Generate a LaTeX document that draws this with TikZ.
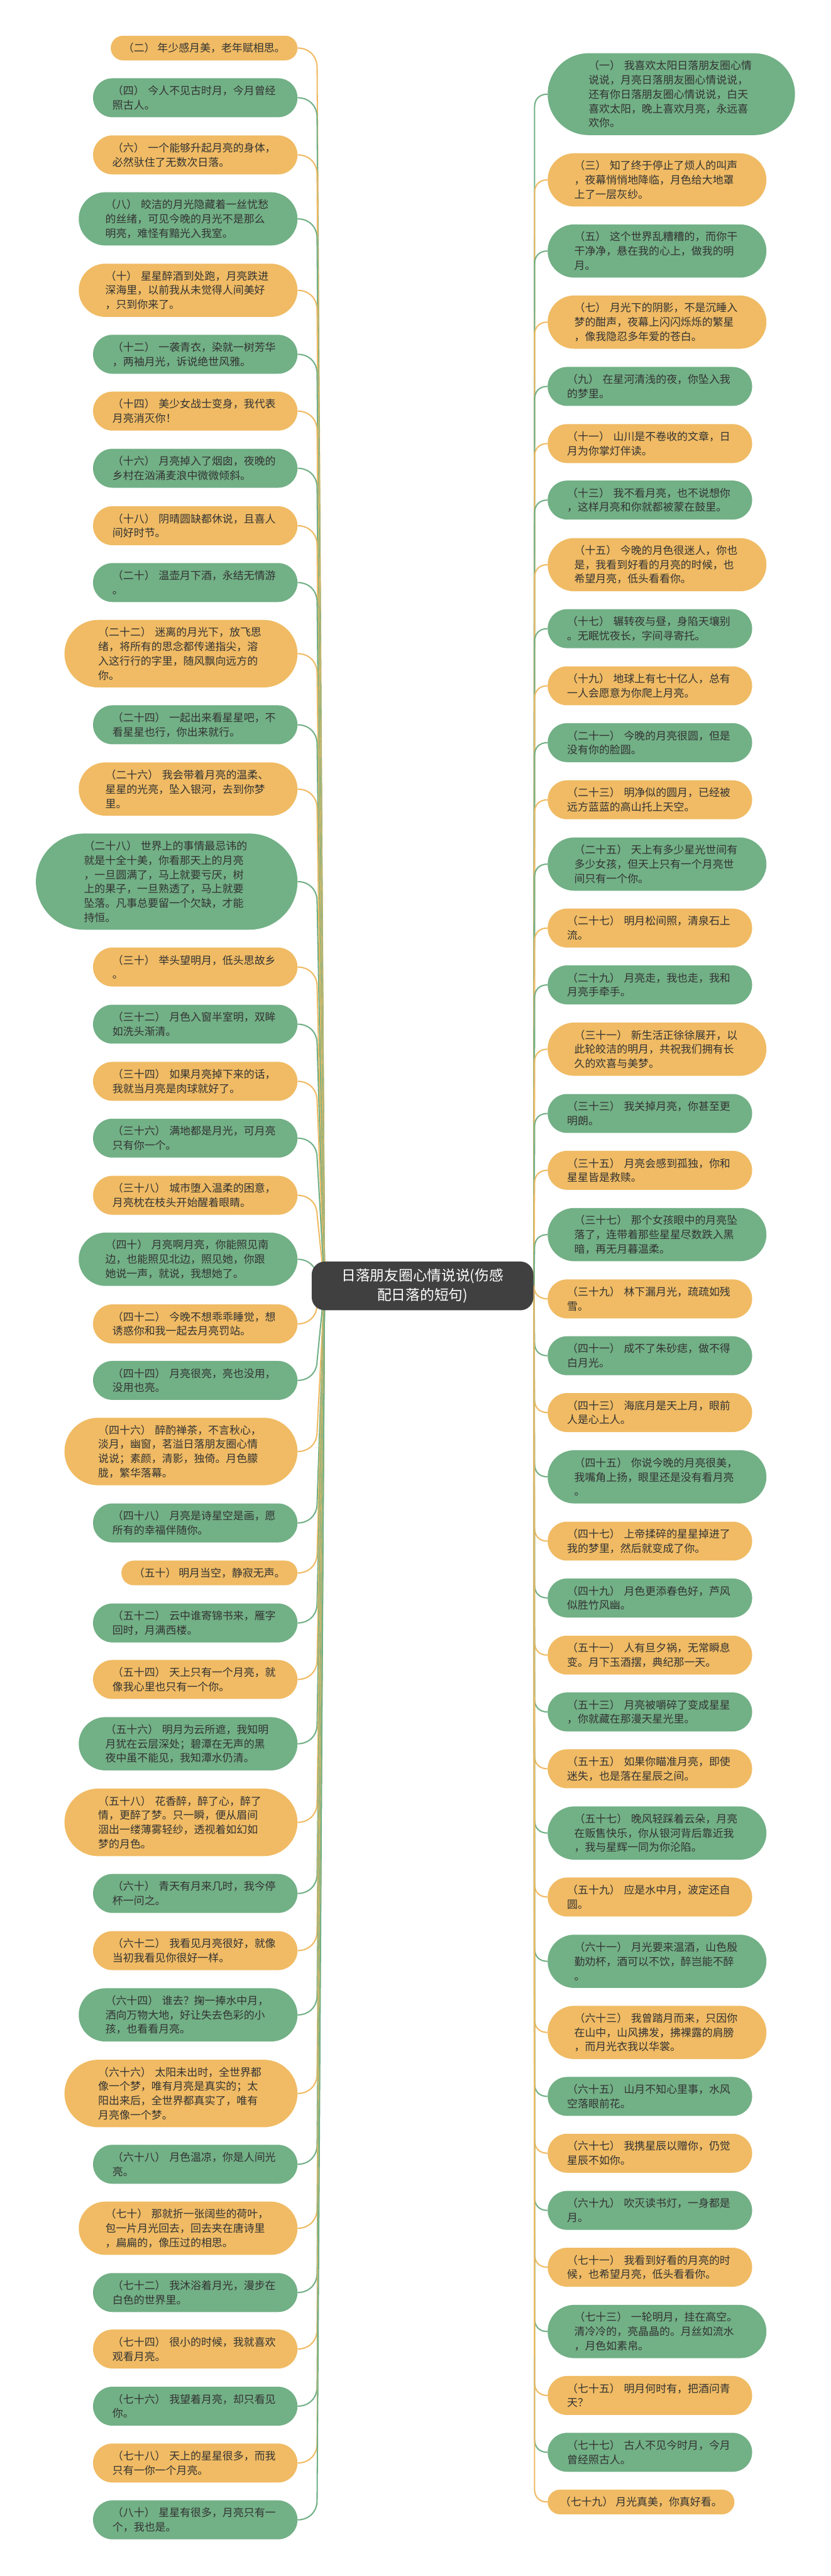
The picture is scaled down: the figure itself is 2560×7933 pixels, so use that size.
\documentclass[tikz,border=0pt]{standalone}
\usepackage{fontspec}
\setmainfont{Noto Sans CJK SC}
\usetikzlibrary{backgrounds}

\definecolor{warmfill}{RGB}{240,187,100}
\definecolor{coolfill}{RGB}{114,176,134}
\definecolor{rootfill}{RGB}{64,64,64}
\definecolor{leaftext}{RGB}{51,51,51}

\tikzset{
  leaf/.style={rectangle, align=left, inner ysep=0pt, text=leaftext, font=\fontsize{16.4}{22}\selectfont},
  warm/.style={leaf, fill=warmfill},
  cool/.style={leaf, fill=coolfill},
  oneline/.style={minimum height=38pt, inner xsep=19pt, rounded corners=19pt},
  twoline/.style={text width=255pt, minimum height=60pt, inner xsep=30pt, rounded corners=30pt},
  threeline/.style={text width=255pt, minimum height=82pt, inner xsep=41pt, rounded corners=41pt},
  fourline/.style={text width=255pt, minimum height=104pt, inner xsep=52pt, rounded corners=52pt},
  fiveline/.style={text width=255pt, minimum height=126pt, inner xsep=63pt, rounded corners=63pt},
  sixline/.style={text width=255pt, minimum height=148pt, inner xsep=74pt, rounded corners=74pt},
  rootbox/.style={rectangle, rounded corners=20pt, fill=rootfill, text=white, align=center, minimum width=341.5pt, minimum height=75pt, font=\fontsize{22}{30}\selectfont},
  warmlink/.style={draw=warmfill, line width=2pt},
  coollink/.style={draw=coolfill, line width=2pt}
}

\begin{document}
\begin{tikzpicture}[x=0.5pt,y=0.5pt,yscale=-1]
\useasboundingbox (0,0) rectangle (2560,7933);
\begin{scope}[on background layer]
\fill [white] (0,0) rectangle (2560,7933);
\end{scope}

% Centre
\draw (1302,3960) node (root) [rootbox] {日落朋友圈心情说说(伤感\\配日落的短句)};
\coordinate (hubL) at (1000,3960);
\coordinate (hubR) at (1645,3960);

% Left branches
\draw (917,148) node (l2) [warm, oneline, anchor=east] {（二）~年少感月美，老年赋相思。};
\draw (917,301) node (l4) [cool, twoline, anchor=east] {（四）~今人不见古时月，今月曾经\\照古人。};
\draw (917,477) node (l6) [warm, twoline, anchor=east] {（六）~一个能够升起月亮的身体，\\必然驮住了无数次日落。};
\draw (917,674) node (l8) [cool, threeline, anchor=east] {（八）~皎洁的月光隐藏着一丝忧愁\\的丝绪，可见今晚的月光不是那么\\明亮，难怪有黯光入我室。};
\draw (917,894) node (l10) [warm, threeline, anchor=east] {（十）~星星醉酒到处跑，月亮跌进\\深海里，以前我从未觉得人间美好\\，只到你来了。};
\draw (917,1091) node (l12) [cool, twoline, anchor=east] {（十二）~一袭青衣，染就一树芳华\\，两袖月光，诉说绝世风雅。};
\draw (917,1266) node (l14) [warm, twoline, anchor=east] {（十四）~美少女战士变身，我代表\\月亮消灭你！};
\draw (917,1442) node (l16) [cool, twoline, anchor=east] {（十六）~月亮掉入了烟囱，夜晚的\\乡村在汹涌麦浪中微微倾斜。};
\draw (917,1619) node (l18) [warm, twoline, anchor=east] {（十八）~阴晴圆缺都休说，且喜人\\间好时节。};
\draw (917,1794) node (l20) [cool, twoline, anchor=east] {（二十）~温壶月下酒，永结无情游\\。};
\draw (917,2013) node (l22) [warm, fourline, anchor=east] {（二十二）~迷离的月光下，放飞思\\绪，将所有的思念都传递指尖，溶\\入这行行的字里，随风飘向远方的\\你。};
\draw (917,2232) node (l24) [cool, twoline, anchor=east] {（二十四）~一起出来看星星吧，不\\看星星也行，你出来就行。};
\draw (917,2430) node (l26) [warm, threeline, anchor=east] {（二十六）~我会带着月亮的温柔、\\星星的光亮，坠入银河，去到你梦\\里。};
\draw (917,2715) node (l28) [cool, sixline, anchor=east] {（二十八）~世界上的事情最忌讳的\\就是十全十美，你看那天上的月亮\\，一旦圆满了，马上就要亏厌，树\\上的果子，一旦熟透了，马上就要\\坠落。凡事总要留一个欠缺，才能\\持恒。};
\draw (917,2978) node (l30) [warm, twoline, anchor=east] {（三十）~举头望明月，低头思故乡\\。};
\draw (917,3154) node (l32) [cool, twoline, anchor=east] {（三十二）~月色入窗半室明，双眸\\如洗头渐清。};
\draw (917,3330) node (l34) [warm, twoline, anchor=east] {（三十四）~如果月亮掉下来的话，\\我就当月亮是肉球就好了。};
\draw (917,3505) node (l36) [cool, twoline, anchor=east] {（三十六）~满地都是月光，可月亮\\只有你一个。};
\draw (917,3681) node (l38) [warm, twoline, anchor=east] {（三十八）~城市堕入温柔的困意，\\月亮枕在枝头开始醒着眼睛。};
\draw (917,3878) node (l40) [cool, threeline, anchor=east] {（四十）~月亮啊月亮，你能照见南\\边，也能照见北边，照见她，你跟\\她说一声，就说，我想她了。};
\draw (917,4077) node (l42) [warm, twoline, anchor=east] {（四十二）~今晚不想乖乖睡觉，想\\诱惑你和我一起去月亮罚站。};
\draw (917,4251) node (l44) [cool, twoline, anchor=east] {（四十四）~月亮很亮，亮也没用，\\没用也亮。};
\draw (917,4470) node (l46) [warm, fourline, anchor=east] {（四十六）~醉酌禅茶，不言秋心，\\淡月，幽窗，茗溢日落朋友圈心情\\说说；素颜，清影，独倚。月色朦\\胧，繁华落幕。};
\draw (917,4690) node (l48) [cool, twoline, anchor=east] {（四十八）~月亮是诗星空是画，愿\\所有的幸福伴随你。};
\draw (917,4844) node (l50) [warm, oneline, anchor=east] {（五十）~明月当空，静寂无声。};
\draw (917,4998) node (l52) [cool, twoline, anchor=east] {（五十二）~云中谁寄锦书来，雁字\\回时，月满西楼。};
\draw (917,5172) node (l54) [warm, twoline, anchor=east] {（五十四）~天上只有一个月亮，就\\像我心里也只有一个你。};
\draw (917,5370) node (l56) [cool, threeline, anchor=east] {（五十六）~明月为云所遮，我知明\\月犹在云层深处；碧潭在无声的黑\\夜中虽不能见，我知潭水仍清。};
\draw (917,5612) node (l58) [warm, fourline, anchor=east] {（五十八）~花香醉，醉了心，醉了\\情，更醉了梦。只一瞬，便从眉间\\洇出一缕薄雾轻纱，透视着如幻如\\梦的月色。};
\draw (917,5831) node (l60) [cool, twoline, anchor=east] {（六十）~青天有月来几时，我今停\\杯一问之。};
\draw (917,6007) node (l62) [warm, twoline, anchor=east] {（六十二）~我看见月亮很好，就像\\当初我看见你很好一样。};
\draw (917,6205) node (l64) [cool, threeline, anchor=east] {（六十四）~谁去？掬一捧水中月，\\洒向万物大地，好让失去色彩的小\\孩，也看看月亮。};
\draw (917,6447) node (l66) [warm, fourline, anchor=east] {（六十六）~太阳未出时，全世界都\\像一个梦，唯有月亮是真实的；太\\阳出来后，全世界都真实了，唯有\\月亮像一个梦。};
\draw (917,6665) node (l68) [cool, twoline, anchor=east] {（六十八）~月色温凉，你是人间光\\亮。};
\draw (917,6862) node (l70) [warm, threeline, anchor=east] {（七十）~那就折一张阔些的荷叶，\\包一片月光回去，回去夹在唐诗里\\，扁扁的，像压过的相思。};
\draw (917,7060) node (l72) [cool, twoline, anchor=east] {（七十二）~我沐浴着月光，漫步在\\白色的世界里。};
\draw (917,7234) node (l74) [warm, twoline, anchor=east] {（七十四）~很小的时候，我就喜欢\\观看月亮。};
\draw (917,7410) node (l76) [cool, twoline, anchor=east] {（七十六）~我望着月亮，却只看见\\你。};
\draw (917,7585) node (l78) [warm, twoline, anchor=east] {（七十八）~天上的星星很多，而我\\只有一你一个月亮。};
\draw (917,7760) node (l80) [cool, twoline, anchor=east] {（八十）~星星有很多，月亮只有一\\个，我也是。};

% Right branches
\draw (1687,290) node (r1) [cool, fiveline, anchor=west] {（一）~我喜欢太阳日落朋友圈心情\\说说，月亮日落朋友圈心情说说，\\还有你日落朋友圈心情说说，白天\\喜欢太阳，晚上喜欢月亮，永远喜\\欢你。};
\draw (1687,554) node (r3) [warm, threeline, anchor=west] {（三）~知了终于停止了烦人的叫声\\，夜幕悄悄地降临，月色给大地罩\\上了一层灰纱。};
\draw (1687,773) node (r5) [cool, threeline, anchor=west] {（五）~这个世界乱糟糟的，而你干\\干净净，悬在我的心上，做我的明\\月。};
\draw (1687,992) node (r7) [warm, threeline, anchor=west] {（七）~月光下的阴影，不是沉睡入\\梦的酣声，夜幕上闪闪烁烁的繁星\\，像我隐忍多年爱的苍白。};
\draw (1687,1190) node (r9) [cool, twoline, anchor=west] {（九）~在星河清浅的夜，你坠入我\\的梦里。};
\draw (1687,1366) node (r11) [warm, twoline, anchor=west] {（十一）~山川是不卷收的文章，日\\月为你掌灯伴读。};
\draw (1687,1540) node (r13) [cool, twoline, anchor=west] {（十三）~我不看月亮，也不说想你\\，这样月亮和你就都被蒙在鼓里。};
\draw (1687,1739) node (r15) [warm, threeline, anchor=west] {（十五）~今晚的月色很迷人，你也\\是，我看到好看的月亮的时候，也\\希望月亮，低头看看你。};
\draw (1687,1936) node (r17) [cool, twoline, anchor=west] {（十七）~辗转夜与昼，身陷天壤别\\。无眠忧夜长，字间寻寄托。};
\draw (1687,2112) node (r19) [warm, twoline, anchor=west] {（十九）~地球上有七十亿人，总有\\一人会愿意为你爬上月亮。};
\draw (1687,2287) node (r21) [cool, twoline, anchor=west] {（二十一）~今晚的月亮很圆，但是\\没有你的脸圆。};
\draw (1687,2463) node (r23) [warm, twoline, anchor=west] {（二十三）~明净似的圆月，已经被\\远方蓝蓝的高山托上天空。};
\draw (1687,2661) node (r25) [cool, threeline, anchor=west] {（二十五）~天上有多少星光世间有\\多少女孩，但天上只有一个月亮世\\间只有一个你。};
\draw (1687,2858) node (r27) [warm, twoline, anchor=west] {（二十七）~明月松间照，清泉石上\\流。};
\draw (1687,3033) node (r29) [cool, twoline, anchor=west] {（二十九）~月亮走，我也走，我和\\月亮手牵手。};
\draw (1687,3231) node (r31) [warm, threeline, anchor=west] {（三十一）~新生活正徐徐展开，以\\此轮皎洁的明月，共祝我们拥有长\\久的欢喜与美梦。};
\draw (1687,3429) node (r33) [cool, twoline, anchor=west] {（三十三）~我关掉月亮，你甚至更\\明朗。};
\draw (1687,3604) node (r35) [warm, twoline, anchor=west] {（三十五）~月亮会感到孤独，你和\\星星皆是救赎。};
\draw (1687,3802) node (r37) [cool, threeline, anchor=west] {（三十七）~那个女孩眼中的月亮坠\\落了，连带着那些星星尽数跌入黑\\暗，再无月暮温柔。};
\draw (1687,4000) node (r39) [warm, twoline, anchor=west] {（三十九）~林下漏月光，疏疏如残\\雪。};
\draw (1687,4175) node (r41) [cool, twoline, anchor=west] {（四十一）~成不了朱砂痣，做不得\\白月光。};
\draw (1687,4350) node (r43) [warm, twoline, anchor=west] {（四十三）~海底月是天上月，眼前\\人是心上人。};
\draw (1687,4548) node (r45) [cool, threeline, anchor=west] {（四十五）~你说今晚的月亮很美，\\我嘴角上扬，眼里还是没有看月亮\\。};
\draw (1687,4746) node (r47) [warm, twoline, anchor=west] {（四十七）~上帝揉碎的星星掉进了\\我的梦里，然后就变成了你。};
\draw (1687,4921) node (r49) [cool, twoline, anchor=west] {（四十九）~月色更添春色好，芦风\\似胜竹风幽。};
\draw (1687,5097) node (r51) [warm, twoline, anchor=west] {（五十一）~人有旦夕祸，无常瞬息\\变。月下玉酒摆，典纪那一天。};
\draw (1687,5272) node (r53) [cool, twoline, anchor=west] {（五十三）~月亮被嚼碎了变成星星\\，你就藏在那漫天星光里。};
\draw (1687,5447) node (r55) [warm, twoline, anchor=west] {（五十五）~如果你瞄准月亮，即使\\迷失，也是落在星辰之间。};
\draw (1687,5645) node (r57) [cool, threeline, anchor=west] {（五十七）~晚风轻踩着云朵，月亮\\在贩售快乐，你从银河背后靠近我\\，我与星辉一同为你沦陷。};
\draw (1687,5842) node (r59) [warm, twoline, anchor=west] {（五十九）~应是水中月，波定还自\\圆。};
\draw (1687,6040) node (r61) [cool, threeline, anchor=west] {（六十一）~月光要来温酒，山色殷\\勤劝杯，酒可以不饮，醉岂能不醉\\。};
\draw (1687,6259) node (r63) [warm, threeline, anchor=west] {（六十三）~我曾踏月而来，只因你\\在山中，山风拂发，拂裸露的肩膀\\，而月光衣我以华裳。};
\draw (1687,6456) node (r65) [cool, twoline, anchor=west] {（六十五）~山月不知心里事，水风\\空落眼前花。};
\draw (1687,6631) node (r67) [warm, twoline, anchor=west] {（六十七）~我携星辰以赠你，仍觉\\星辰不如你。};
\draw (1687,6807) node (r69) [cool, twoline, anchor=west] {（六十九）~吹灭读书灯，一身都是\\月。};
\draw (1687,6982) node (r71) [warm, twoline, anchor=west] {（七十一）~我看到好看的月亮的时\\候，也希望月亮，低头看看你。};
\draw (1687,7180) node (r73) [cool, threeline, anchor=west] {（七十三）~一轮明月，挂在高空。\\清冷冷的，亮晶晶的。月丝如流水\\，月色如素帛。};
\draw (1687,7377) node (r75) [warm, twoline, anchor=west] {（七十五）~明月何时有，把酒问青\\天？};
\draw (1687,7552) node (r77) [cool, twoline, anchor=west] {（七十七）~古人不见今时月，今月\\曾经照古人。};
\draw (1687,7705) node (r79) [warm, oneline, anchor=west] {（七十九）~月光真美，你真好看。};

\begin{scope}[on background layer]
% Left links
\draw [warmlink] (l2.east) .. controls +(35,0) and +(0,-35) .. +(60,60) -- (hubL);
\draw [coollink] (l4.east) .. controls +(35,0) and +(0,-35) .. +(60,60) -- (hubL);
\draw [warmlink] (l6.east) .. controls +(35,0) and +(0,-35) .. +(60,60) -- (hubL);
\draw [coollink] (l8.east) .. controls +(35,0) and +(0,-35) .. +(60,60) -- (hubL);
\draw [warmlink] (l10.east) .. controls +(35,0) and +(0,-35) .. +(60,60) -- (hubL);
\draw [coollink] (l12.east) .. controls +(35,0) and +(0,-35) .. +(60,60) -- (hubL);
\draw [warmlink] (l14.east) .. controls +(35,0) and +(0,-35) .. +(60,60) -- (hubL);
\draw [coollink] (l16.east) .. controls +(35,0) and +(0,-35) .. +(60,60) -- (hubL);
\draw [warmlink] (l18.east) .. controls +(35,0) and +(0,-35) .. +(60,60) -- (hubL);
\draw [coollink] (l20.east) .. controls +(35,0) and +(0,-35) .. +(60,60) -- (hubL);
\draw [warmlink] (l22.east) .. controls +(35,0) and +(0,-35) .. +(60,60) -- (hubL);
\draw [coollink] (l24.east) .. controls +(35,0) and +(0,-35) .. +(60,60) -- (hubL);
\draw [warmlink] (l26.east) .. controls +(35,0) and +(0,-35) .. +(60,60) -- (hubL);
\draw [coollink] (l28.east) .. controls +(35,0) and +(0,-35) .. +(60,60) -- (hubL);
\draw [warmlink] (l30.east) .. controls +(35,0) and +(0,-35) .. +(60,60) -- (hubL);
\draw [coollink] (l32.east) .. controls +(35,0) and +(0,-35) .. +(60,60) -- (hubL);
\draw [warmlink] (l34.east) .. controls +(35,0) and +(0,-35) .. +(60,60) -- (hubL);
\draw [coollink] (l36.east) .. controls +(35,0) and +(0,-35) .. +(60,60) -- (hubL);
\draw [warmlink] (l38.east) .. controls +(35,0) and +(0,-35) .. +(60,60) -- (hubL);
\draw [coollink] (l40.east) .. controls +(35,0) and +(0,-35) .. +(60,60) -- (hubL);
\draw [warmlink] (l42.east) .. controls +(35,0) and +(0,35) .. +(60,-60) -- (hubL);
\draw [coollink] (l44.east) .. controls +(35,0) and +(0,35) .. +(60,-60) -- (hubL);
\draw [warmlink] (l46.east) .. controls +(35,0) and +(0,35) .. +(60,-60) -- (hubL);
\draw [coollink] (l48.east) .. controls +(35,0) and +(0,35) .. +(60,-60) -- (hubL);
\draw [warmlink] (l50.east) .. controls +(35,0) and +(0,35) .. +(60,-60) -- (hubL);
\draw [coollink] (l52.east) .. controls +(35,0) and +(0,35) .. +(60,-60) -- (hubL);
\draw [warmlink] (l54.east) .. controls +(35,0) and +(0,35) .. +(60,-60) -- (hubL);
\draw [coollink] (l56.east) .. controls +(35,0) and +(0,35) .. +(60,-60) -- (hubL);
\draw [warmlink] (l58.east) .. controls +(35,0) and +(0,35) .. +(60,-60) -- (hubL);
\draw [coollink] (l60.east) .. controls +(35,0) and +(0,35) .. +(60,-60) -- (hubL);
\draw [warmlink] (l62.east) .. controls +(35,0) and +(0,35) .. +(60,-60) -- (hubL);
\draw [coollink] (l64.east) .. controls +(35,0) and +(0,35) .. +(60,-60) -- (hubL);
\draw [warmlink] (l66.east) .. controls +(35,0) and +(0,35) .. +(60,-60) -- (hubL);
\draw [coollink] (l68.east) .. controls +(35,0) and +(0,35) .. +(60,-60) -- (hubL);
\draw [warmlink] (l70.east) .. controls +(35,0) and +(0,35) .. +(60,-60) -- (hubL);
\draw [coollink] (l72.east) .. controls +(35,0) and +(0,35) .. +(60,-60) -- (hubL);
\draw [warmlink] (l74.east) .. controls +(35,0) and +(0,35) .. +(60,-60) -- (hubL);
\draw [coollink] (l76.east) .. controls +(35,0) and +(0,35) .. +(60,-60) -- (hubL);
\draw [warmlink] (l78.east) .. controls +(35,0) and +(0,35) .. +(60,-60) -- (hubL);
\draw [coollink] (l80.east) .. controls +(35,0) and +(0,35) .. +(60,-60) -- (hubL);
% Right links
\draw [coollink] (r1.west) .. controls +(-25,0) and +(0,-25) .. +(-40,40) -- (hubR);
\draw [warmlink] (r3.west) .. controls +(-25,0) and +(0,-25) .. +(-40,40) -- (hubR);
\draw [coollink] (r5.west) .. controls +(-25,0) and +(0,-25) .. +(-40,40) -- (hubR);
\draw [warmlink] (r7.west) .. controls +(-25,0) and +(0,-25) .. +(-40,40) -- (hubR);
\draw [coollink] (r9.west) .. controls +(-25,0) and +(0,-25) .. +(-40,40) -- (hubR);
\draw [warmlink] (r11.west) .. controls +(-25,0) and +(0,-25) .. +(-40,40) -- (hubR);
\draw [coollink] (r13.west) .. controls +(-25,0) and +(0,-25) .. +(-40,40) -- (hubR);
\draw [warmlink] (r15.west) .. controls +(-25,0) and +(0,-25) .. +(-40,40) -- (hubR);
\draw [coollink] (r17.west) .. controls +(-25,0) and +(0,-25) .. +(-40,40) -- (hubR);
\draw [warmlink] (r19.west) .. controls +(-25,0) and +(0,-25) .. +(-40,40) -- (hubR);
\draw [coollink] (r21.west) .. controls +(-25,0) and +(0,-25) .. +(-40,40) -- (hubR);
\draw [warmlink] (r23.west) .. controls +(-25,0) and +(0,-25) .. +(-40,40) -- (hubR);
\draw [coollink] (r25.west) .. controls +(-25,0) and +(0,-25) .. +(-40,40) -- (hubR);
\draw [warmlink] (r27.west) .. controls +(-25,0) and +(0,-25) .. +(-40,40) -- (hubR);
\draw [coollink] (r29.west) .. controls +(-25,0) and +(0,-25) .. +(-40,40) -- (hubR);
\draw [warmlink] (r31.west) .. controls +(-25,0) and +(0,-25) .. +(-40,40) -- (hubR);
\draw [coollink] (r33.west) .. controls +(-25,0) and +(0,-25) .. +(-40,40) -- (hubR);
\draw [warmlink] (r35.west) .. controls +(-25,0) and +(0,-25) .. +(-40,40) -- (hubR);
\draw [coollink] (r37.west) .. controls +(-25,0) and +(0,-25) .. +(-40,40) -- (hubR);
\draw [warmlink] (r39.west) .. controls +(-25,0) and +(0,25) .. (hubR);
\draw [coollink] (r41.west) .. controls +(-25,0) and +(0,25) .. +(-40,-40) -- (hubR);
\draw [warmlink] (r43.west) .. controls +(-25,0) and +(0,25) .. +(-40,-40) -- (hubR);
\draw [coollink] (r45.west) .. controls +(-25,0) and +(0,25) .. +(-40,-40) -- (hubR);
\draw [warmlink] (r47.west) .. controls +(-25,0) and +(0,25) .. +(-40,-40) -- (hubR);
\draw [coollink] (r49.west) .. controls +(-25,0) and +(0,25) .. +(-40,-40) -- (hubR);
\draw [warmlink] (r51.west) .. controls +(-25,0) and +(0,25) .. +(-40,-40) -- (hubR);
\draw [coollink] (r53.west) .. controls +(-25,0) and +(0,25) .. +(-40,-40) -- (hubR);
\draw [warmlink] (r55.west) .. controls +(-25,0) and +(0,25) .. +(-40,-40) -- (hubR);
\draw [coollink] (r57.west) .. controls +(-25,0) and +(0,25) .. +(-40,-40) -- (hubR);
\draw [warmlink] (r59.west) .. controls +(-25,0) and +(0,25) .. +(-40,-40) -- (hubR);
\draw [coollink] (r61.west) .. controls +(-25,0) and +(0,25) .. +(-40,-40) -- (hubR);
\draw [warmlink] (r63.west) .. controls +(-25,0) and +(0,25) .. +(-40,-40) -- (hubR);
\draw [coollink] (r65.west) .. controls +(-25,0) and +(0,25) .. +(-40,-40) -- (hubR);
\draw [warmlink] (r67.west) .. controls +(-25,0) and +(0,25) .. +(-40,-40) -- (hubR);
\draw [coollink] (r69.west) .. controls +(-25,0) and +(0,25) .. +(-40,-40) -- (hubR);
\draw [warmlink] (r71.west) .. controls +(-25,0) and +(0,25) .. +(-40,-40) -- (hubR);
\draw [coollink] (r73.west) .. controls +(-25,0) and +(0,25) .. +(-40,-40) -- (hubR);
\draw [warmlink] (r75.west) .. controls +(-25,0) and +(0,25) .. +(-40,-40) -- (hubR);
\draw [coollink] (r77.west) .. controls +(-25,0) and +(0,25) .. +(-40,-40) -- (hubR);
\draw [warmlink] (r79.west) .. controls +(-25,0) and +(0,25) .. +(-40,-40) -- (hubR);
\end{scope}

\end{tikzpicture}
\end{document}
